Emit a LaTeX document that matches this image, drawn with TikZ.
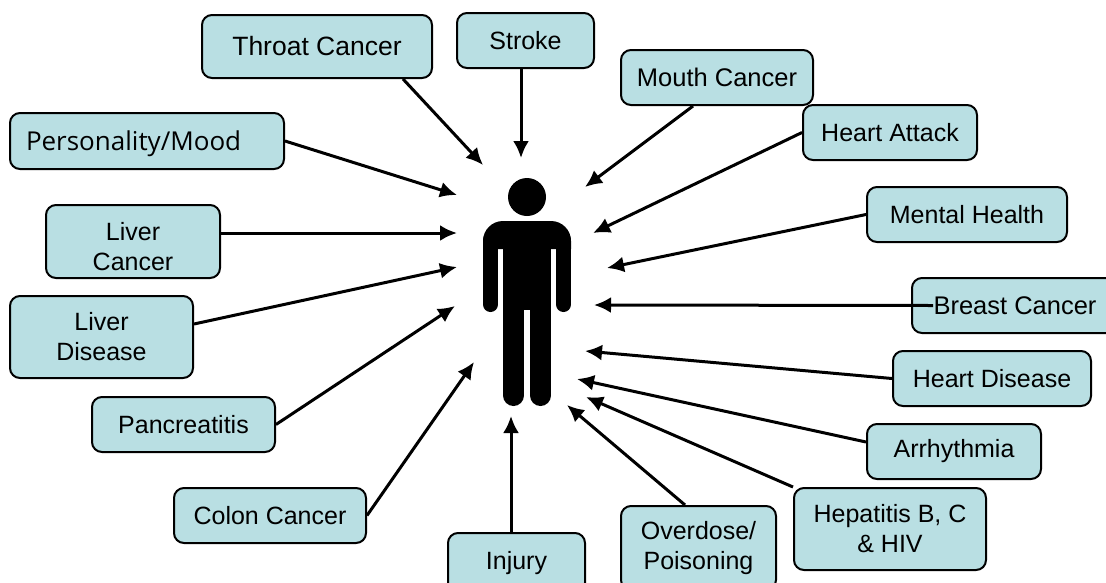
\documentclass[tikz,border=0pt]{standalone}
\usepackage{fontspec}
\setmainfont{Liberation Sans}
\newfontfamily\moodfont{Open Sans}
\usetikzlibrary{positioning,arrows.meta}
\definecolor{boxfill}{HTML}{B9DFE3}
\tikzset{
    healthbox/.style={draw, rectangle, rounded corners=10pt, fill=boxfill, line width=2pt, align=center, inner sep=0pt, font=\fontsize{25}{30}\selectfont},
    bigtext/.style={font=\fontsize{25.5}{30}\selectfont}
}
\begin{document}
\begin{tikzpicture}[x=1pt, y=-1pt, on grid, >={Latex[length=17pt,width=16pt]}, line width=3pt]
            \clip (0,0) rectangle (1106,582);
            \node[healthbox, font=\fontsize{26.5}{30}\selectfont, minimum width=230pt, minimum height=63pt] (throat) at (317,46.5) {Throat Cancer};
            \node[healthbox, minimum width=137pt, minimum height=55pt, above right=6pt and 208.5pt of throat] (stroke) {Stroke};
            \node[healthbox, bigtext, minimum width=192pt, minimum height=55pt, below right=37pt and 191.5pt of stroke] (mouth) {Mouth Cancer};
            \node[healthbox, minimum width=174pt, minimum height=55pt, below right=55pt and 173pt of mouth] (attack) {Heart Attack};
            \node[healthbox, minimum width=200pt, minimum height=55pt, below right=82pt and 77pt of attack] (mental) {Mental Health};
            \node[healthbox, bigtext, minimum width=206pt, minimum height=55pt, below right=91pt and 48pt of mental] (breast) {Breast Cancer};
            \node[healthbox, minimum width=198pt, minimum height=55pt, below left=73pt and 23pt of breast] (disease) {Heart Disease};
            \node[healthbox, minimum width=174pt, minimum height=55pt, below left=73pt and 38pt of disease] (rhythm) {Arrhythmia};
            \node[healthbox, minimum width=192pt, minimum height=82pt, below left=77.5pt and 64pt of rhythm] (hepatitis) {Hepatitis B, C\\\& HIV};
            \node[healthbox, minimum width=155pt, minimum height=84pt, below left=19pt and 191.5pt of hepatitis] (overdose) {Overdose/\\Poisoning};
            \node[healthbox, minimum width=137pt, minimum height=60pt, below left=15pt and 182pt of overdose] (injury) {Injury};
            \node[healthbox, minimum width=192pt, minimum height=55pt, above left=47.5pt and 246.5pt of injury] (colon) {Colon Cancer};
            \node[healthbox, minimum width=183pt, minimum height=55pt, above left=91pt and 86.5pt of colon] (pancreas) {Pancreatitis};
            \node[healthbox, minimum width=183pt, minimum height=82pt, above left=87.5pt and 82pt of pancreas] (ldisease) {Liver\\Disease};
            \node[healthbox, minimum width=174pt, minimum height=73pt, above right=95.5pt and 31.5pt of ldisease] (lcancer) {\rule{0pt}{29pt}Liver\\Cancer};
            \node[healthbox, minimum width=274pt, minimum height=56pt, text width=242pt, align=left, font=\moodfont\fontsize{26}{30}\selectfont, above right=100.5pt and 14pt of lcancer] (mood) {\rule{0pt}{26pt}Personality/Mood};

            \fill (527,197) circle (19);
            \fill (483,249) [rounded corners=20pt] -- (483,221) -- (571,221) [sharp corners] -- (571,249) -- cycle;
            \fill (503,249) rectangle (551,310);
            \draw[line width=15pt, line cap=round] (490.5,240) -- (490.5,304.5);
            \draw[line width=15pt, line cap=round] (563.5,240) -- (563.5,304.5);
            \draw[line width=21pt, line cap=round] (513.5,290) -- (513.5,395.5);
            \draw[line width=21pt, line cap=round] (540.5,290) -- (540.5,395.5);

            \coordinate (throattip) at (483,165);
            \coordinate (stroketip) at (521,158);
            \coordinate (mouthtip) at (585,187);
            \coordinate (attacktip) at (593,233);
            \coordinate (mentaltip) at (607,268);
            \coordinate (breasttip) at (594,305);
            \coordinate (diseasetip) at (585,351);
            \coordinate (rhythmtip) at (577,379);
            \coordinate (hepatitistip) at (586,397);
            \coordinate (overdosetip) at (567,405);
            \coordinate (injurytip) at (511,416);
            \coordinate (colontip) at (474,362);
            \coordinate (pancreastip) at (455,306);
            \coordinate (ldiseasetip) at (457,267);
            \coordinate (lcancertip) at (457,233);
            \coordinate (moodtip) at (457,195);

            \draw[->] ([xshift=86pt]throat.south) -- (throattip);
            \draw[->] ([xshift=-4.5pt]stroke.south) -- (stroketip);
            \draw[->] ([xshift=-24pt]mouth.south) -- (mouthtip);
            \draw[->] (attack.west) -- (attacktip);
            \draw[->] (mental.west) -- (mentaltip);
            \draw[->] ([xshift=22pt]breast.west) -- (breasttip);
            \draw[->] (disease.west) -- (diseasetip);
            \draw[->] ([yshift=9.5pt]rhythm.west) -- (rhythmtip);
            \draw[->] (hepatitis.north west) -- (hepatitistip);
            \draw[->] ([xshift=-13.5pt]overdose.north) -- (overdosetip);
            \draw[->] ([xshift=-5.5pt]injury.north) -- (injurytip);
            \draw[->] (colon.east) -- (colontip);
            \draw[->] (pancreas.east) -- (pancreastip);
            \draw[->] ([yshift=13pt]ldisease.east) -- (ldiseasetip);
            \draw[->] ([yshift=8.5pt]lcancer.east) -- (lcancertip);
            \draw[->] (mood.east) -- (moodtip);
        \end{tikzpicture}
\end{document}
